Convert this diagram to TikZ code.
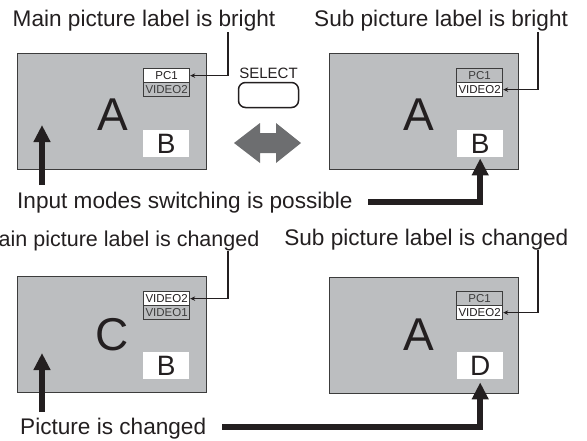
\documentclass[tikz,border=0pt]{standalone}
\usepackage{fontspec}
\setmainfont{Liberation Sans}
\usetikzlibrary{arrows.meta}
\definecolor{scr}{HTML}{BCBEC0}
\definecolor{edge}{HTML}{3C3C3C}
\definecolor{dbl}{HTML}{6D6E70}
\definecolor{ink}{HTML}{231F20}
\begin{document}
\begin{tikzpicture}[x=1pt,y=-1pt,
  screen/.style={draw=edge, line width=1.2pt, fill=scr, minimum width=189pt, minimum height=116pt, inner sep=0pt, anchor=north west},
  labon/.style={draw=edge, line width=1.2pt, fill=white, text=ink, minimum width=46pt, minimum height=14pt, inner sep=0pt, anchor=north west, font=\fontsize{11.5}{12}\selectfont},
  laboff/.style={labon, fill=scr, text=edge},
  subbox/.style={fill=white, text=ink, minimum width=46pt, minimum height=27pt, inner sep=0pt, anchor=north west, font=\fontsize{28}{30}\selectfont},
  bigletter/.style={font=\fontsize{46}{48}\selectfont, text=ink, inner sep=0pt, anchor=base},
  caption/.style={font=\fontsize{22.6}{24}\selectfont, inner sep=0pt, text=ink},
  pointer/.style={draw=ink, line width=1.1pt, -{Stealth[length=5pt,width=4.5pt]}},
  bigarrow/.style={draw=ink, line width=5.5pt, -{Triangle[length=17pt,width=16pt]}},
  button/.style={draw=ink, line width=1.5pt, rounded corners=7pt, minimum width=60pt, minimum height=25pt, inner sep=0pt},
]
\useasboundingbox (0,0) rectangle (587,440);

% panels
\node[screen] (p1) at (17,53) {};
\node[screen] (p2) at (329,53) {};
\node[screen] (p3) at (17,276) {};
\node[screen] (p4) at (329,277) {};

% labels inside panels
\node[labon]  (p1a) at (143,68) {PC1};
\node[laboff] (p1b) at (143,82) {VIDEO2};
\node[laboff] (p2a) at (456,68) {PC1};
\node[labon]  (p2b) at (456,82) {VIDEO2};
\node[labon]  (p3a) at (143,291) {VIDEO2};
\node[laboff] (p3b) at (143,305) {VIDEO1};
\node[laboff] (p4a) at (456,291) {PC1};
\node[labon]  (p4b) at (456,305) {VIDEO2};

% sub pictures
\node[subbox] (b1) at (143,130) {B};
\node[subbox] (b2) at (457,130) {B};
\node[subbox] (b3) at (143,352) {B};
\node[subbox] (b4) at (457,352) {D};

% main picture letters
\node[bigletter] (m1) at (112.5,130) {A};
\node[bigletter] (m2) at (418.5,130) {A};
\node[bigletter] (m3) at (112,350) {C};
\node[bigletter] (m4) at (418.5,350) {A};

% select button
\node[inner sep=0pt, anchor=base, text=ink, font=\fontsize{15}{16}\selectfont] (sel) at (268.5,78) {SELECT};
\node[button] (btn) at (268.5,95) {};

% double arrow
\fill[dbl] (234,143) -- (260,123) -- (260,133) -- (276,133) -- (276,123) -- (301,143)
  -- (276,163) -- (276,153) -- (260,153) -- (260,163) -- cycle;

% captions
\node[caption, anchor=base west] (t1) at (12.5,26) {Main picture label is bright};
\node[caption, anchor=base west] (t2) at (314,26) {Sub picture label is bright};
\node[caption, anchor=base west] (t3) at (17,208) {Input modes switching is possible};
\node[caption, anchor=base east, font=\fontsize{21.5}{23}\selectfont] (t4) at (259.5,246) {Main picture label is changed};
\node[caption, anchor=base east] (t5) at (568.5,245) {Sub picture label is changed};
\node[caption, anchor=base west] (t6) at (20,434) {Picture is changed};

% thin pointers
\coordinate (c1) at (228,32);
\coordinate (c2) at (538,32);
\coordinate (c3) at (228,251);
\coordinate (c4) at (538,250);
\draw[pointer] (c1) |- (p1a.east);
\draw[pointer] (c2) |- (p2b.east);
\draw[pointer] (c3) |- (p3a.east);
\draw[pointer] (c4) |- (p4b.east);

% thick arrows
\coordinate (u1) at (42,185);
\coordinate (u1t) at (42,125);
\coordinate (u3) at (42,412);
\coordinate (u3t) at (42,353);
\draw[bigarrow] (u1) -- (u1t);
\draw[bigarrow] (u3) -- (u3t);
\coordinate (h1) at (368,202);
\coordinate (h2) at (222,427);
\draw[bigarrow, shorten >=1pt] (h1) -| (b2.south);
\draw[bigarrow, shorten >=3pt] (h2) -| (b4.south);
\end{tikzpicture}
\end{document}
